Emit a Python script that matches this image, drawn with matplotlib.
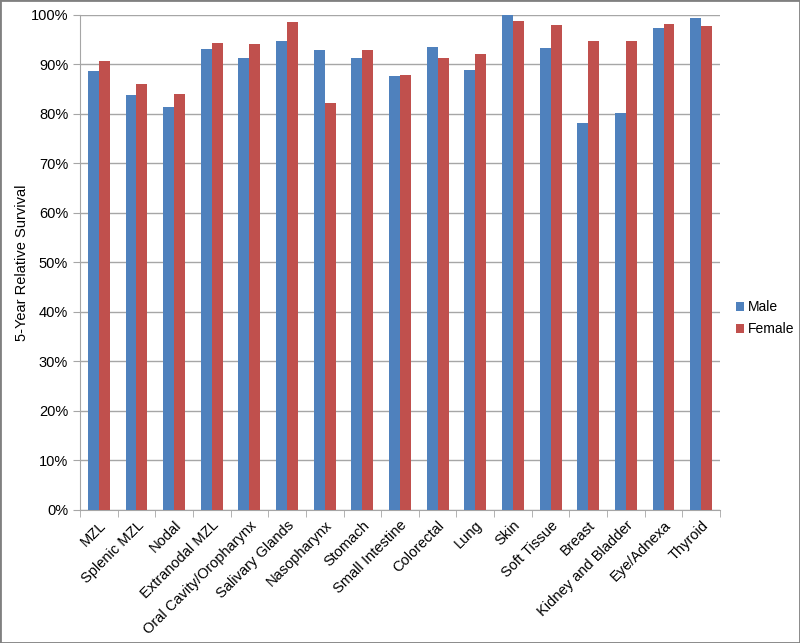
import numpy as np
import matplotlib.pyplot as plt
from matplotlib.patches import Rectangle
from matplotlib.ticker import FixedLocator, PercentFormatter

plt.rcParams['font.family'] = ['Liberation Sans', 'DejaVu Sans']

# Datos
sites = ['MZL', 'Splenic MZL', 'Nodal', 'Extranodal MZL', 'Oral Cavity/Oropharynx',
         'Salivary Glands', 'Nasopharynx', 'Stomach', 'Small Intestine', 'Colorectal',
         'Lung', 'Skin', 'Soft Tissue', 'Breast', 'Kidney and Bladder', 'Eye/Adnexa',
         'Thyroid']
male = [88.7, 83.9, 81.3, 93.0, 91.2, 94.7, 92.8, 91.2, 87.6, 93.4,
        88.9, 100.0, 93.2, 78.1, 80.1, 97.4, 99.4]
female = [90.6, 86.0, 84.1, 94.3, 94.1, 98.6, 82.1, 92.8, 87.8, 91.2,
          92.0, 98.8, 98.0, 94.7, 94.8, 98.2, 97.8]

fig = plt.figure(figsize=(8, 6.43), dpi=100)
ax = fig.add_axes([0.1, 0.207, 0.8, 0.77])

x = np.arange(len(sites))
w = 0.29
ax.bar(x - w / 2, male, w, color='#4F81BD', label='Male', zorder=3)
ax.bar(x + w / 2, female, w, color='#C0504D', label='Female', zorder=3)

ax.set_xlim(-0.5, len(sites) - 0.5)
ax.set_ylim(0, 100)
ax.set_yticks(np.arange(0, 101, 10))
ax.yaxis.set_major_formatter(PercentFormatter(decimals=0))
ax.yaxis.grid(True, color='#A6A6A6', linewidth=1, zorder=0)

# ticks entre categorias, estilo Excel
ax.set_xticks(x)
ax.set_xticklabels(sites, rotation=45, ha='right', rotation_mode='anchor')
ax.tick_params(axis='x', length=0, pad=6)
ax.xaxis.set_minor_locator(FixedLocator(np.arange(-0.5, len(sites), 1)))
ax.tick_params(axis='x', which='minor', length=5, color='#A6A6A6')
ax.tick_params(axis='y', length=5, color='#A6A6A6')
ax.tick_params(labelsize=10.5)

for s in ['top', 'right']:
    ax.spines[s].set_visible(False)
for s in ['left', 'bottom']:
    ax.spines[s].set_color('#A6A6A6')

ax.set_ylabel('5-Year Relative Survival', fontsize=10.5)
ax.yaxis.set_label_coords(-0.079, 0.5)

fig.legend(loc='center left', bbox_to_anchor=(0.92, 0.505), frameon=False,
           fontsize=10, handlelength=0.6, handleheight=0.6, handletextpad=0.25,
           labelspacing=0.6, borderaxespad=0, borderpad=0)

fig.patches.append(Rectangle((0, 0), 1, 1, transform=fig.transFigure, fill=False,
                             edgecolor='#808080', linewidth=2))

fig.savefig('out.png', dpi=100)
